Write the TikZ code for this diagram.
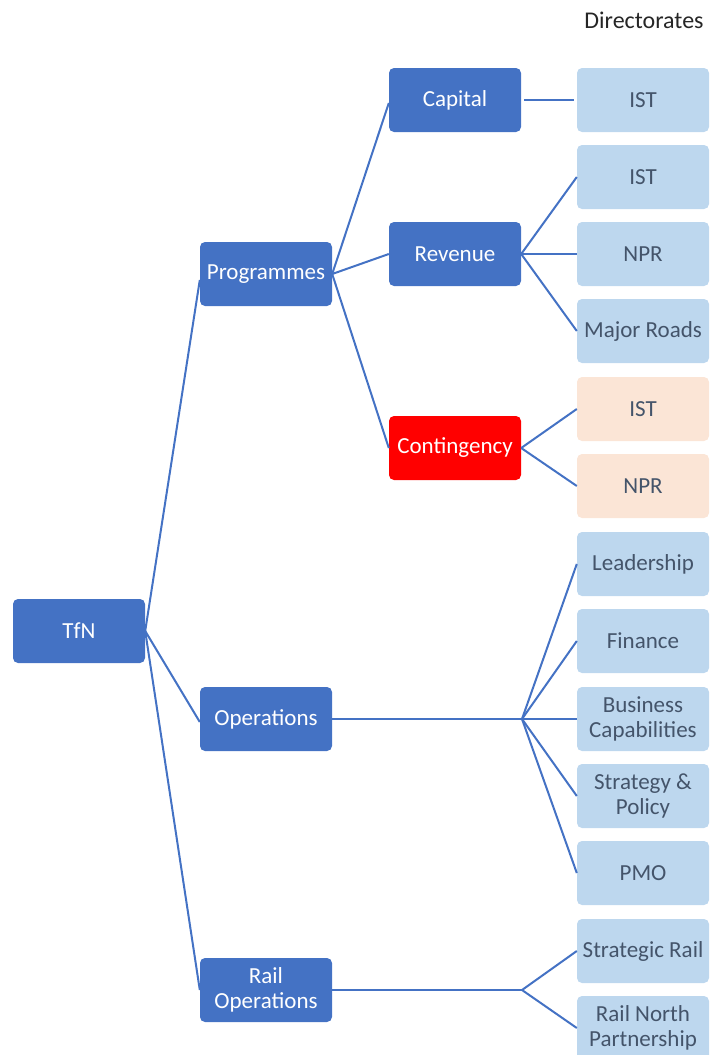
\documentclass[tikz,border=0pt]{standalone}
\usepackage{fontspec}
\setmainfont{Carlito}
\definecolor{dblue}{HTML}{4472C4}
\definecolor{lblue}{HTML}{BDD7EE}
\definecolor{peach}{HTML}{FBE5D6}
\definecolor{txt}{HTML}{44546A}
\definecolor{ered}{HTML}{FF0000}
\begin{document}
\begin{tikzpicture}[x=1pt,y=-1pt,
  box/.style={rounded corners=5pt, minimum width=132pt, minimum height=64pt, inner sep=0pt, align=center, font=\fontsize{23}{25}\selectfont},
  mainbox/.style={box, fill=dblue, text=white},
  redbox/.style={box, fill=ered, text=white},
  dirbox/.style={box, fill=lblue, text=txt},
  pchbox/.style={box, fill=peach, text=txt},
  conn/.style={draw=dblue, line width=2pt}]
\useasboundingbox (0,0) rectangle (712,1055);
\node[font=\fontsize{24}{28}\selectfont, text=black!85] (dirs) at (644,20) {Directorates};
\node[mainbox] (tfn) at (79,631) {TfN};
\node[mainbox] (prog) at (266,274) {Programmes};
\node[mainbox] (ops) at (266,719) {Operations};
\node[mainbox] (rops) at (266,990) {Rail\\Operations};
\node[mainbox] (cap) at (455,100) {Capital};
\node[mainbox] (rev) at (455,254) {Revenue};
\node[redbox] (cont) at (455,448) {Contingency};
\node[dirbox] (ist1) at (643,100) {IST};
\node[dirbox] (ist2) at (643,177) {IST};
\node[dirbox] (npr1) at (643,254) {NPR};
\node[dirbox] (mr) at (643,331) {Major Roads};
\node[pchbox] (ist3) at (643,409) {IST};
\node[pchbox] (npr2) at (643,486) {NPR};
\node[dirbox] (lead) at (643,564) {Leadership};
\node[dirbox] (fin) at (643,641) {Finance};
\node[dirbox] (bc) at (643,719) {Business\\Capabilities};
\node[dirbox] (sp) at (643,796) {Strategy \&\\Policy};
\node[dirbox] (pmo) at (643,873) {PMO};
\node[dirbox] (sr) at (643,951) {Strategic Rail};
\node[dirbox] (rnp) at (643,1028) {Rail North\\Partnership};
\coordinate (opsfan) at (522,719);
\coordinate (ropsfan) at (522,990);
\draw[conn] (tfn.east) -- ([yshift=-6pt]prog.west);
\draw[conn] (tfn.east) -- ([yshift=-3pt]ops.west);
\draw[conn] (tfn.east) -- (rops.west);
\draw[conn] (prog.east) -- ([yshift=-3pt]cap.west);
\draw[conn] (prog.east) -- (rev.west);
\draw[conn] (prog.east) -- (cont.west);
\draw[conn,shorten <=3pt,shorten >=3pt] (cap.east) -- (ist1.west);
\draw[conn] (rev.east) -- (ist2.west);
\draw[conn] (rev.east) -- (npr1.west);
\draw[conn] (rev.east) -- (mr.west);
\draw[conn] (cont.east) -- (ist3.west);
\draw[conn] (cont.east) -- (npr2.west);
\draw[conn] (ops.east) -- (opsfan);
\draw[conn] (opsfan) -- (lead.west);
\draw[conn] (opsfan) -- (fin.west);
\draw[conn] (opsfan) -- (bc.west);
\draw[conn] (opsfan) -- (sp.west);
\draw[conn] (opsfan) -- (pmo.west);
\draw[conn] (rops.east) -- (ropsfan);
\draw[conn] (ropsfan) -- (sr.west);
\draw[conn] (ropsfan) -- (rnp.west);
\end{tikzpicture}
\end{document}
